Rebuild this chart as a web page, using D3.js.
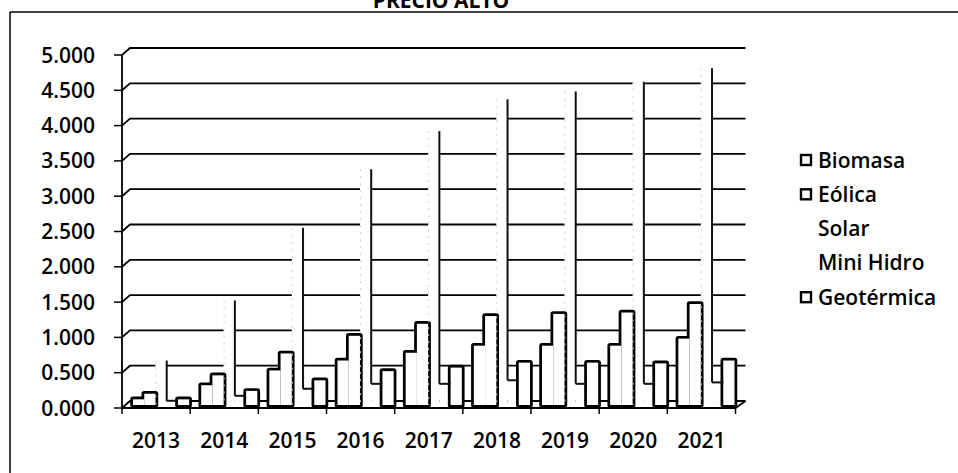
<!DOCTYPE html>
<html><head><meta charset="utf-8">
<script src="https://cdn.jsdelivr.net/npm/d3@7"></script>
<style>
body{margin:0;background:#fff}
svg{display:block}
text{font-family:"Open Sans",sans-serif;font-weight:600;fill:#000}
</style>
</head><body>
<svg id="c" width="958" height="473"></svg>
<script>
const title = "PRECIO ALTO";
const years = ["2013","2014","2015","2016","2017","2018","2019","2020","2021"];
const seriesNames = ["Biomasa","Eólica","Solar","Mini Hidro","Geotérmica"];
const biomasa    = [0.08,0.28,0.49,0.63,0.74,0.84,0.84,0.84,0.94];
const eolica     = [0.16,0.42,0.73,0.98,1.15,1.26,1.29,1.31,1.43];
const solar      = [0.63,1.48,2.51,3.34,3.88,4.33,4.44,4.58,4.77];
const miniHidro  = [0.06,0.13,0.23,0.30,0.30,0.35,0.30,0.30,0.32];
const geotermica = [0.08,0.20,0.35,0.48,0.53,0.60,0.60,0.59,0.63];
const yTicks = [0,0.5,1,1.5,2,2.5,3,3.5,4,4.5,5];
const yTickLabels = ["0.000","0.500","1.000","1.500","2.000","2.500","3.000","3.500","4.000","4.500","5.000"];

const seriesValues = {"Biomasa":biomasa,"Eólica":eolica,"Solar":solar,"Mini Hidro":miniHidro,"Geotérmica":geotermica};
const outlined = ["Biomasa","Eólica","Geotérmica"];

const svg = d3.select("#c");
const W = 958, H = 473;
const left = 122, right = 735.5;
const depthX = 8, depthY = 7;

const yFront = d3.scaleLinear().domain([0,5]).range([408,55]);
const yBack  = d3.scaleLinear().domain([0,5]).range([408-depthY,55-depthY]);
const yBar   = d3.scaleLinear().domain([0,5]).range([405,52]);

const x0 = d3.scaleBand().domain(years).range([left,right]).padding(0);
const x1 = d3.scaleBand().domain(seriesNames).range([11, x0.bandwidth()-1]).padding(0);

// frame
svg.append("line").attr("x1",10).attr("y1",12).attr("x2",W).attr("y2",12).attr("stroke","#000").attr("stroke-width",1.5);
svg.append("line").attr("x1",10).attr("y1",12).attr("x2",10).attr("y2",H).attr("stroke","#000").attr("stroke-width",1.5);

// title (clipped at top as in the scan)
svg.append("text").attr("x",441).attr("y",8).attr("text-anchor","middle")
  .style("font-size","21px").style("font-weight","700").text(title);

// gridlines on back wall + connectors
const grid = svg.append("g");
yTicks.forEach(t=>{
  grid.append("path")
    .attr("d",`M${left},${yFront(t)}L${left+depthX},${yBack(t)}H${right+depthX+2}`)
    .attr("fill","none").attr("stroke","#000").attr("stroke-width",1.8);
});

// bar data
const rows = years.map((yr,i)=>({year:yr, vals:seriesNames.map(s=>({s, v:seriesValues[s][i]}))}));
const groups = svg.append("g").selectAll("g").data(rows).join("g")
  .attr("transform",d=>`translate(${x0(d.year)},0)`);

// light series (solar, mini hidro): white fill hides gridlines
groups.selectAll("rect.light").data(d=>d.vals.filter(v=>!outlined.includes(v.s))).join("rect")
  .attr("class","light")
  .attr("x",d=>x1(d.s)).attr("width",x1.bandwidth())
  .attr("y",d=>yBar(d.v)).attr("height",d=>yBar(0)-yBar(d.v))
  .attr("fill","#fff");

// outlined series: outline pass, then fill pass (silhouette)
groups.selectAll("rect.outl").data(d=>d.vals.filter(v=>outlined.includes(v.s))).join("rect")
  .attr("class","outl")
  .attr("x",d=>x1(d.s)).attr("width",x1.bandwidth())
  .attr("y",d=>yBar(d.v)).attr("height",d=>yBar(0)-yBar(d.v))
  .attr("fill","#000").attr("stroke","#000").attr("stroke-width",5.5).attr("stroke-linejoin","round");
groups.selectAll("rect.fillw").data(d=>d.vals.filter(v=>outlined.includes(v.s))).join("rect")
  .attr("class","fillw")
  .attr("x",d=>x1(d.s)).attr("width",x1.bandwidth())
  .attr("y",d=>yBar(d.v)).attr("height",d=>yBar(0)-yBar(d.v))
  .attr("fill","#fff");

// solar right (shaded) edge down to the mini hidro top, mini hidro top edge
groups.append("line")
  .attr("x1",()=>x1("Solar")+x1.bandwidth()).attr("x2",()=>x1("Solar")+x1.bandwidth())
  .attr("y1",(d,i)=>yBar(solar[i])).attr("y2",(d,i)=>yBar(miniHidro[i]))
  .attr("stroke","#111").attr("stroke-width",2);
groups.append("line")
  .attr("x1",()=>x1("Mini Hidro")).attr("x2",()=>x1("Mini Hidro")+x1.bandwidth())
  .attr("y1",(d,i)=>yBar(miniHidro[i])).attr("y2",(d,i)=>yBar(miniHidro[i]))
  .attr("stroke","#111").attr("stroke-width",2);
groups.append("line")
  .attr("x1",()=>x1("Solar")+0.5).attr("x2",()=>x1("Solar")+0.5)
  .attr("y1",(d,i)=>yBar(solar[i])).attr("y2",()=>yBar(0))
  .attr("stroke","#ccc").attr("stroke-width",1).attr("stroke-dasharray","2,5");

// y axis
svg.append("line").attr("x1",left).attr("x2",left).attr("y1",yFront(0)).attr("y2",yFront(5))
  .attr("stroke","#000").attr("stroke-width",1.8);
yTicks.forEach((t,i)=>{
  svg.append("line").attr("x1",left-8).attr("x2",left).attr("y1",yFront(t)).attr("y2",yFront(t))
    .attr("stroke","#000").attr("stroke-width",1.5);
  svg.append("text").attr("x",95).attr("y",yFront(t)).attr("dy","0.36em").attr("text-anchor","end")
    .style("font-size","21px").text(yTickLabels[i]);
});

// x axis (front floor edge)
svg.append("path").attr("d",`M${left},${yFront(0)}H${right}L${right+depthX+2},${yBack(0)}`)
  .attr("fill","none").attr("stroke","#000").attr("stroke-width",1.8);
const xTickPos = years.map(y=>x0(y)).concat([right]);
xTickPos.forEach(p=>{
  svg.append("line").attr("x1",p).attr("x2",p).attr("y1",yFront(0)).attr("y2",yFront(0)+6)
    .attr("stroke","#000").attr("stroke-width",1.5);
});
svg.append("g").selectAll("text").data(years).join("text")
  .attr("x",d=>x0(d)+x0.bandwidth()/2).attr("y",448).attr("text-anchor","middle")
  .style("font-size","21px").text(d=>d);

// legend
const lg = svg.append("g").selectAll("g").data(seriesNames).join("g")
  .attr("transform",(d,i)=>`translate(800,${160+i*34.3})`);
lg.filter(d=>outlined.includes(d)).append("rect")
  .attr("x",1).attr("y",-5).attr("width",10).attr("height",10)
  .attr("fill","#fff").attr("stroke","#000").attr("stroke-width",2.4);
lg.append("text").attr("x",18).attr("y",0).attr("dy","0.36em")
  .style("font-size","21px").text(d=>d);
</script>
</body></html>
